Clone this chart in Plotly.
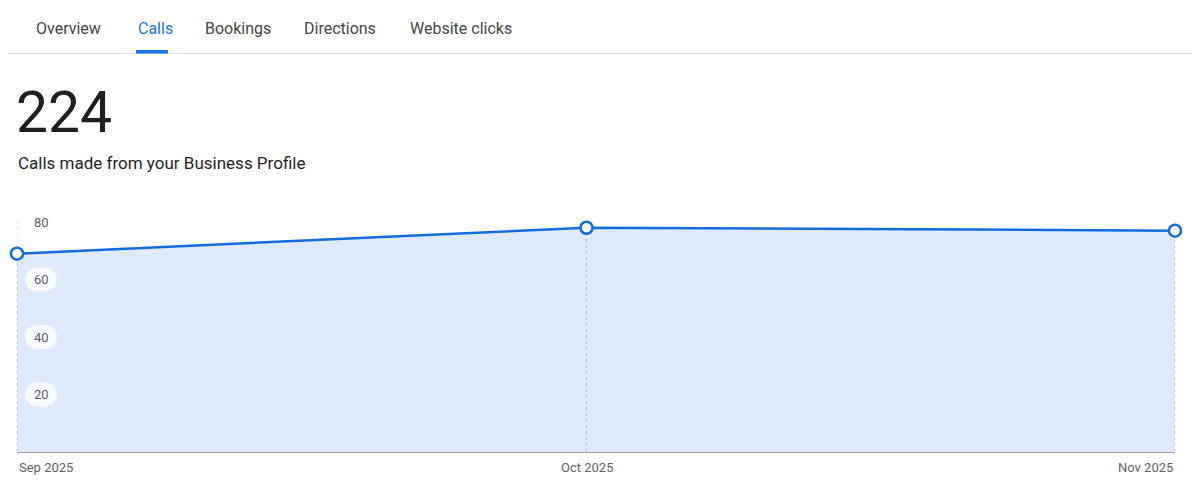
import plotly.graph_objects as go

# ---- data ----
months = ["2025-09-01", "2025-10-01", "2025-11-01"]
month_labels = ["Sep 2025", "Oct 2025", "Nov 2025"]
calls = [69, 78, 77]
y_ticks = [20, 40, 60, 80]
tabs = ["Overview", "Calls", "Bookings", "Directions", "Website clicks"]
active_tab = "Calls"
total_text = "224"
subtitle = "Calls made from your Business Profile"

# page body has an 8px margin; compensate so the figure fills the window
OX, OY = 8, 8
W, H = 1200 - OX, 498 - OY
L, R, T, B = 17 - OX, 25, 222 - OY, 46
PW = W - L - R
PH = H - T - B

def px(x):
    return (x - OX - L) / PW

def py(y):
    return (H - B - (y - OY)) / PH

BLUE = "#1a73e8"
LINE_BLUE = "#136bdc"
FONT = "Roboto, Arial, sans-serif"

fig = go.Figure()
fig.add_trace(go.Scatter(
    x=months, y=calls, mode="lines+markers",
    line=dict(color=LINE_BLUE, width=2.5),
    marker=dict(size=12, color="white", line=dict(color=LINE_BLUE, width=2.5)),
    fill="tozeroy", fillcolor="rgba(26,115,232,0.14)",
    cliponaxis=False, hoverinfo="skip", showlegend=False,
))

shapes = []
annotations = []

# vertical dotted grid lines
for m in months:
    shapes.append(dict(type="line", xref="x", yref="paper", x0=m, x1=m, y0=0, y1=1,
                       line=dict(color="#c3c9d4", width=1, dash="dot"), layer="below"))

# y tick pills + labels
r = 12
k = 0.5523 * r
hw = 4
pill = (f"M {-hw},{-r} L {hw},{-r} C {hw+k},{-r} {hw+r},{-k} {hw+r},0 "
        f"C {hw+r},{k} {hw+k},{r} {hw},{r} L {-hw},{r} "
        f"C {-hw-k},{r} {-hw-r},{k} {-hw-r},0 C {-hw-r},{-k} {-hw-k},{-r} {-hw},{-r} Z")
for t in y_ticks:
    shapes.append(dict(type="path", xref="paper", yref="y", xsizemode="pixel", ysizemode="pixel",
                       xanchor=px(41), yanchor=t, path=pill,
                       fillcolor="rgba(255,255,255,0.75)", line=dict(width=0), layer="above"))
    annotations.append(dict(xref="paper", yref="y", x=px(41), y=t, text=str(t), showarrow=False,
                            xanchor="center", yanchor="middle",
                            font=dict(family=FONT, size=13, color="#5f6368")))

# x labels
anchors = ["left", "center", "right"]
for m, lab, a in zip(months, month_labels, anchors):
    annotations.append(dict(xref="x", yref="paper", x=m, y=py(467), text=lab, showarrow=False,
                            xanchor=a, yanchor="middle",
                            font=dict(family=FONT, size=13, color="#5f6368")))

# header tabs
tab_x = [34, 136, 203, 302, 408]
for name, x in zip(tabs, tab_x):
    annotations.append(dict(xref="paper", yref="paper", x=px(x), y=py(28), text=name,
                            showarrow=False, xanchor="left", yanchor="middle",
                            font=dict(family=FONT, size=16,
                                      color=BLUE if name == active_tab else "#444746")))
shapes.append(dict(type="line", xref="paper", yref="paper", x0=px(0), x1=px(1200), y0=py(53.5), y1=py(53.5),
                   line=dict(color="#dadce0", width=1)))
shapes.append(dict(type="rect", xref="paper", yref="paper", x0=px(136), x1=px(168), y0=py(50), y1=py(53.5),
                   fillcolor=BLUE, line=dict(width=0)))

# big number + subtitle
annotations.append(dict(xref="paper", yref="paper", x=px(14), y=py(112), text=total_text, showarrow=False,
                        xanchor="left", yanchor="middle",
                        font=dict(family=FONT, size=57, color="#1f1f1f")))
annotations.append(dict(xref="paper", yref="paper", x=px(16), y=py(163), text=subtitle, showarrow=False,
                        xanchor="left", yanchor="middle",
                        font=dict(family=FONT, size=17, color="#1f1f1f")))

fig.update_layout(
    width=W, height=H,
    margin=dict(l=L, r=R, t=T, b=B),
    paper_bgcolor="white", plot_bgcolor="white",
    xaxis=dict(type="date", range=[months[0], months[-1]], showgrid=False, showticklabels=False,
               ticks="", zeroline=False, showline=True, linecolor="#9aa0a6", linewidth=1,
               fixedrange=True),
    yaxis=dict(range=[0, 80], showgrid=False, showticklabels=False, ticks="", zeroline=False,
               showline=False, fixedrange=True),
    shapes=shapes, annotations=annotations,
    font=dict(family=FONT),
)

fig.write_html("out.html", config={"displayModeBar": False})
